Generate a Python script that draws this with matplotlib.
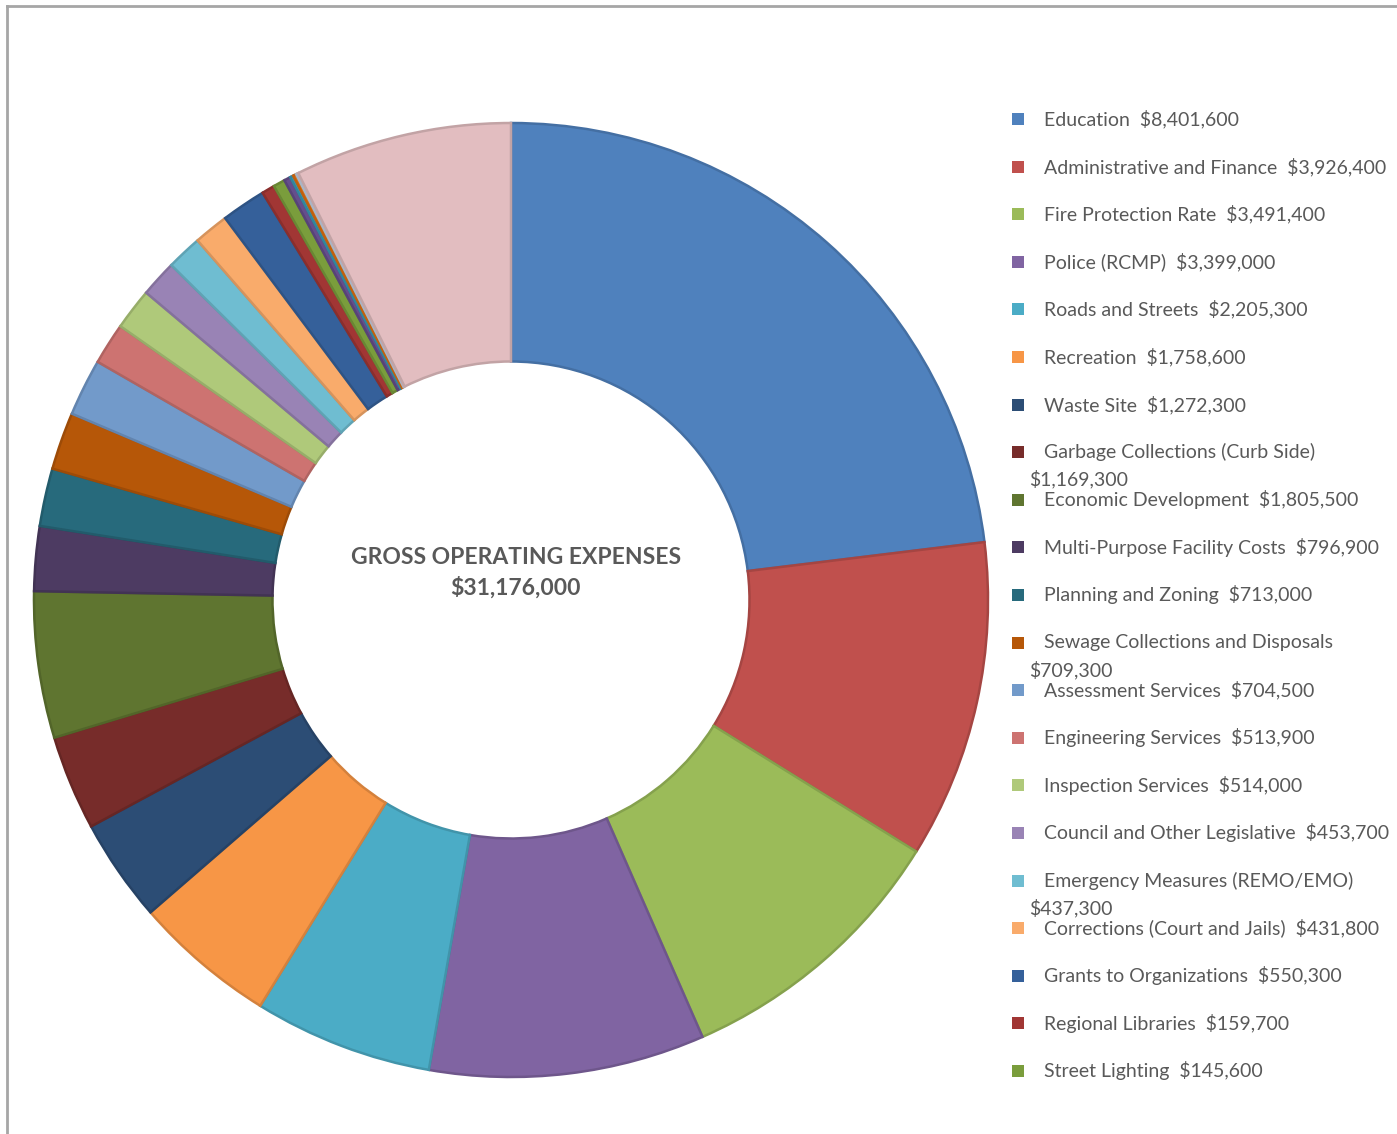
import matplotlib
matplotlib.use("Agg")

import matplotlib.pyplot as plt
from matplotlib.colors import to_rgb
from matplotlib.patches import Rectangle


# Expense categories (legend order = slice order, clockwise from top)
categories = [
    "Education", "Administrative and Finance", "Fire Protection Rate",
    "Police (RCMP)", "Roads and Streets", "Recreation", "Waste Site",
    "Garbage Collections (Curb Side)", "Economic Development",
    "Multi-Purpose Facility Costs", "Planning and Zoning",
    "Sewage Collections and Disposals", "Assessment Services",
    "Engineering Services", "Inspection Services",
    "Council and Other Legislative", "Emergency Measures (REMO/EMO)",
    "Corrections (Court and Jails)", "Grants to Organizations",
    "Regional Libraries", "Street Lighting",
]
amounts = [
    8401600, 3926400, 3491400, 3399000, 2205300, 1758600, 1272300,
    1169300, 1805500, 796900, 713000, 709300, 704500, 513900, 514000,
    453700, 437300, 431800, 550300, 159700, 145600,
]
value_labels = [
    "$8,401,600", "$3,926,400", "$3,491,400", "$3,399,000", "$2,205,300",
    "$1,758,600", "$1,272,300", "$1,169,300", "$1,805,500", "$796,900",
    "$713,000", "$709,300", "$704,500", "$513,900", "$514,000",
    "$453,700", "$437,300", "$431,800", "$550,300", "$159,700", "$145,600",
]
# legend entries whose value wraps onto a second line
wrapped = [7, 11, 16]

# slices that are drawn but not listed in the legend (estimated)
extra_amounts = [80000, 40000, 40000, 30000, 2680000]

colors = [
    "#4F81BD", "#C0504D", "#9BBB59", "#8064A2", "#4BACC6", "#F79646",
    "#2C4D75", "#772C2A", "#5F7530", "#4D3B62", "#276A7C", "#B65708",
    "#729ACA", "#CD7371", "#AFC97A", "#9983B5", "#6FBDD1", "#F9AB6B",
    "#35609A", "#A13634", "#7A9D3C",
]
extra_colors = ["#654E8C", "#3A9BB5", "#E0700F", "#C5D3E6", "#E2BDC0"]

total_label = "$31,176,000"


all_values = amounts + extra_amounts
all_colors = colors + extra_colors
edge_colors = [tuple(c * 0.86 for c in to_rgb(col)) for col in all_colors]

text_grey = "#595959"
W, H = 1397, 1134

fig = plt.figure(figsize=(W / 100, H / 100), dpi=100)

# donut: centre (511, 600) px, outer radius 477 px
cx, cy, r = 511, 600, 477
ax = fig.add_axes([(cx - r) / W, 1 - (cy + r) / H, 2 * r / W, 2 * r / H])

wedges, _ = ax.pie(
    all_values,
    colors=all_colors,
    startangle=90,
    counterclock=False,
    radius=1,
    wedgeprops=dict(width=0.5, linewidth=1.8),
)
for w, ec in zip(wedges, edge_colors):
    w.set_edgecolor(ec)

ax.set_xlim(-1.0, 1.0)
ax.set_ylim(-1.0, 1.0)
ax.set_aspect("equal")
ax.axis("off")

ax.text(0.01, 0.09, "GROSS OPERATING EXPENSES", ha="center", va="center",
        fontsize=16.5, fontweight="bold", color=text_grey, family="Lato")
ax.text(0.01, 0.027, total_label, ha="center", va="center",
        fontsize=16.5, fontweight="bold", color=text_grey, family="Lato")


# legend drawn by hand so wrapped entries keep the even row spacing
y0, dy = 119, 47.6
for i, (name, val) in enumerate(zip(categories, value_labels)):
    y = y0 + i * dy
    fig.patches.append(Rectangle(
        (1012 / W, 1 - (y + 6) / H), 12 / W, 12 / H,
        transform=fig.transFigure, facecolor=colors[i], edgecolor="none"))
    if i in wrapped:
        fig.text(1044 / W, 1 - y / H, name, va="center", ha="left",
                 fontsize=14, color=text_grey, family="Lato")
        fig.text(1029 / W, 1 - (y + 27) / H, val, va="center", ha="left",
                 fontsize=14, color=text_grey, family="Lato")
    else:
        fig.text(1044 / W, 1 - y / H, name + "  " + val, va="center",
                 ha="left", fontsize=14, color=text_grey, family="Lato")


# chart-area border (top and left visible)
fig.add_artist(plt.Line2D([7 / W, 7 / W], [0, 1 - 6 / H],
                          transform=fig.transFigure, color="#A6A6A6", lw=2))
fig.add_artist(plt.Line2D([7 / W, 1], [1 - 6 / H, 1 - 6 / H],
                          transform=fig.transFigure, color="#A6A6A6", lw=2))

fig.savefig("out.png", dpi=100)
